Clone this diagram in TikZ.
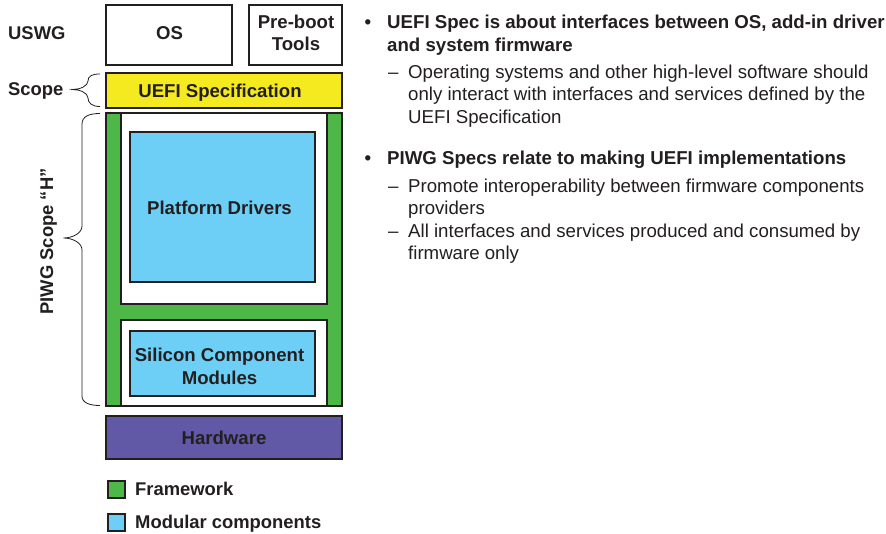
\documentclass[tikz,border=0pt]{standalone}
\usepackage{fontspec}
\setmainfont{Liberation Sans}
\definecolor{ink}{HTML}{231F20}
\definecolor{fgreen}{HTML}{4DB848}
\definecolor{mblue}{HTML}{6DCFF6}
\definecolor{uyellow}{HTML}{F4EA1F}
\definecolor{hpurple}{HTML}{6159A6}
\begin{document}
\begin{tikzpicture}[x=1pt,y=-1pt,
  ink/.style={draw=ink, line width=1.5pt},
  box/.style={ink, fill=white, inner sep=0pt},
  btxt/.style={inner sep=0pt, anchor=base, font=\bfseries\fontsize{18.6}{22.5}\selectfont, text=ink},
  lbl/.style={inner sep=0pt, font=\bfseries\fontsize{18.4}{22}\selectfont, text=ink},
  body/.style={inner sep=0pt, anchor=base west, font=\fontsize{18.65}{22}\selectfont, text=ink},
  bodyb/.style={body, font=\bfseries\fontsize{18.65}{22}\selectfont},
  brace/.style={draw=ink, line width=0.8pt}]
\useasboundingbox[fill=white] (0,0) rectangle (886,534);

% stack boxes
\node[box, minimum width=126, minimum height=60] (os) at (169,35) {};
\node[box, minimum width=93, minimum height=60] (pre) at (295.5,35) {};
\node[box, fill=uyellow, minimum width=236, minimum height=35] (uefi) at (224,90.5) {};
\node[box, fill=fgreen, minimum width=236, minimum height=293] (fw) at (224,259.5) {};
\node[box, minimum width=206, minimum height=191] (upw) at (224,208.5) {};
\node[box, fill=mblue, minimum width=185, minimum height=150] (pd) at (222.5,207) {};
\node[box, minimum width=206, minimum height=86] (low) at (224,363) {};
\node[box, fill=mblue, minimum width=185, minimum height=65] (scm) at (222.5,363.5) {};
\node[box, fill=hpurple, minimum width=236, minimum height=43] (hw) at (224,437.5) {};

% box texts
\node[btxt] (ost) at (169.5,39.2) {OS};
\node[btxt] (pret1) at (296,28.3) {Pre-boot};
\node[btxt] (pret2) at (296,50.3) {Tools};
\node[btxt] (uefit) at (220,97.5) {UEFI Specification};
\node[btxt] (pdt) at (219.5,214.2) {Platform Drivers};
\node[btxt] (scmt1) at (219.5,361.6) {Silicon Component};
\node[btxt] (scmt2) at (219.5,384.3) {Modules};
\node[btxt] (hwt) at (224,444) {Hardware};

% legend
\node[box, fill=fgreen, minimum width=17, minimum height=17] (lg1) at (116.5,489.5) {};
\node[lbl, anchor=base west] (lt1) at (135,495.5) {Framework};
\node[box, fill=mblue, minimum width=17, minimum height=17] (lg2) at (116.5,522.5) {};
\node[lbl, anchor=base west] (lt2) at (135,528.5) {Modular components};

% left labels
\node[lbl, anchor=base west] (uswg) at (8,39.5) {USWG};
\node[lbl, anchor=base west] (scope) at (8,96) {Scope};
\node[lbl, anchor=base, rotate=90] (piwg) at (53,241.5) {PIWG Scope “H”};

% braces
\draw[brace] (100,74) .. controls (92,74) and (88,76) .. (88,81)
  .. controls (88,86) and (80,89.5) .. (72.5,89.5)
  .. controls (80,89.5) and (88,93) .. (88,98)
  .. controls (88,103) and (92,106.5) .. (100,106.5);
\draw[brace] (100,113.5) .. controls (90,113.5) and (82,116) .. (82,124) -- (82,226)
  .. controls (82,233) and (73,238) .. (63.5,238)
  .. controls (73,238) and (82,243) .. (82,250) -- (82,396)
  .. controls (82,403) and (90,405.5) .. (100,405.5);

% right text
\node[bodyb, anchor=base] (bu1) at (368,28.5) {•};
\node[bodyb] (t1a) at (387,28.5) {UEFI Spec is about interfaces between OS, add-in driver};
\node[bodyb] (t1b) at (387,51.5) {and system firmware};
\node[body] (d1) at (388,78.5) {–};
\node[body] (s1a) at (408,78.5) {Operating systems and other high-level software should};
\node[body] (s1b) at (408,101) {only interact with interfaces and services defined by the};
\node[body] (s1c) at (408,123.5) {UEFI Specification};

\node[bodyb, anchor=base] (bu2) at (368,164.5) {•};
\node[bodyb] (t2a) at (387,164.5) {PIWG Specs relate to making UEFI implementations};
\node[body] (d2) at (388,192.5) {–};
\node[body] (s2a) at (408,192.5) {Promote interoperability between firmware components};
\node[body] (s2b) at (408,214.5) {providers};
\node[body] (d3) at (388,237.5) {–};
\node[body] (s3a) at (408,237.5) {All interfaces and services produced and consumed by};
\node[body] (s3b) at (408,259.5) {firmware only};
\end{tikzpicture}
\end{document}
